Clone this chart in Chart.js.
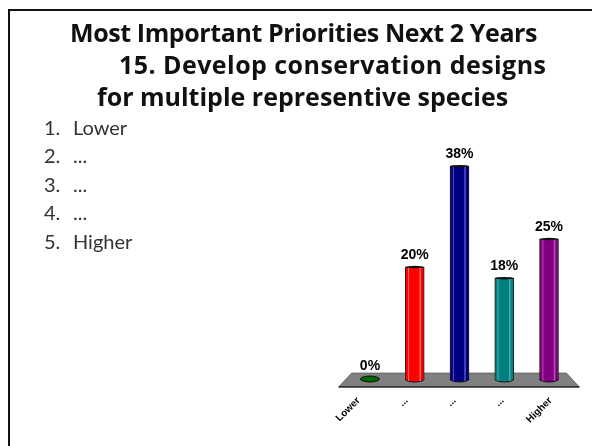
<!DOCTYPE html>
<html>
<head>
<meta charset="utf-8">
<title>Most Important Priorities Next 2 Years</title>
<script src="https://cdn.jsdelivr.net/npm/chart.js@4"></script>
<style>
    html, body { margin: 0; padding: 0; background: #fff; overflow: hidden; }
    #page { position: relative; width: 592px; height: 446px; overflow: hidden; }
    #frame { position: absolute; left: 8px; top: 9px; width: 600px; height: 460px;
             border-left: 2px solid #111; border-top: 2px solid #111; }
    #chart { position: absolute; left: 0; top: 0; }
    .title, .item { position: absolute; white-space: nowrap; }
    .title { font: bold 25px "Open Sans", sans-serif; color: #111; }
    .item { font: 20px "Lato", sans-serif; color: #333; }
</style>
</head>
<body>
<div id="page">
    <div id="frame"></div>
    <canvas id="chart" width="592" height="446"></canvas>
    <div class="title" style="left:70px;top:15px;letter-spacing:-0.4px">Most Important Priorities Next 2 Years</div>
    <div class="title" style="left:119px;top:47px;letter-spacing:0.45px">15. Develop conservation designs</div>
    <div class="title" style="left:97px;top:79px">for multiple representive species</div>
    <div id="list"></div>
</div>
<script>
const categories = ["Lower", "...", "...", "...", "Higher"];
const percents = [0, 20, 38, 18, 25];
const barColors = ["#006600", "#ff0000", "#000080", "#008080", "#800080"];
const stripColors = ["#339933", "#ff6666", "#5555bb", "#55aaaa", "#b055b0"];
const listNumbers = ["1.", "2.", "3.", "4.", "5."];

// numbered list on the left
const list = document.getElementById("list");
categories.forEach((label, i) => {
    const top = 114.5 + i * 28.6;
    [[listNumbers[i], 44], [label, 73]].forEach(([text, left]) => {
        const el = document.createElement("div");
        el.className = "item";
        el.textContent = text;
        el.style.left = left + "px";
        el.style.top = top + "px";
        list.appendChild(el);
    });
});

// grey floor under the bars
const floorPlugin = {
    id: "floor",
    beforeDatasetsDraw(chart) {
        const c = chart.ctx;
        const base = chart.scales.y.getPixelForValue(0);
        const a = chart.chartArea;
        c.save();
        c.beginPath();
        c.moveTo(a.left + 4, base - 6);
        c.lineTo(a.right - 5, base - 6);
        c.lineTo(a.right + 8, base + 8);
        c.lineTo(a.left - 9, base + 8);
        c.closePath();
        c.fillStyle = "#808080";
        c.fill();
        c.strokeStyle = "#555";
        c.lineWidth = 0.7;
        c.stroke();
        c.beginPath();
        c.moveTo(a.left - 9, base + 8);
        c.lineTo(a.right + 8, base + 8);
        c.strokeStyle = "#000";
        c.lineWidth = 1.2;
        c.stroke();
        c.restore();
    }
};

// rounds the flat bars off into cylinders and writes the percent labels
const cylinderPlugin = {
    id: "cylinder",
    afterDatasetsDraw(chart) {
        const c = chart.ctx;
        const base = chart.scales.y.getPixelForValue(0);
        const meta = chart.getDatasetMeta(0);
        meta.data.forEach((bar, i) => {
            const half = bar.width / 2;
            c.save();
            // bottom end
            c.beginPath();
            c.ellipse(bar.x, base, half, 3, 0, 0, Math.PI * 2);
            c.fillStyle = barColors[i];
            c.fill();
            c.strokeStyle = "#111";
            c.lineWidth = 1;
            if (percents[i] === 0) {
                c.stroke();
            } else {
                c.beginPath();
                c.ellipse(bar.x, base, half, 3, 0, 0, Math.PI);
                c.stroke();
                // highlights
                c.fillStyle = stripColors[i];
                c.fillRect(bar.x + half * 0.5, bar.y, 1.5, base - bar.y + 2);
                c.fillRect(bar.x - half * 0.7, bar.y, 1, base - bar.y + 2);
                // top end
                c.beginPath();
                c.ellipse(bar.x, bar.y, half, 1.2, 0, 0, Math.PI * 2);
                c.fillStyle = "#111";
                c.fill();
            }
            c.fillStyle = "#000";
            c.font = "bold 14px 'Liberation Sans', sans-serif";
            c.textAlign = "center";
            c.textBaseline = "alphabetic";
            c.fillText(percents[i] + "%", bar.x, bar.y - (percents[i] === 0 ? 9 : 8));
            c.restore();
        });
    }
};

// slanted axis labels, they sit a bit wider apart than the bars
const tickLabelPlugin = {
    id: "tickLabels",
    afterDraw(chart) {
        const c = chart.ctx;
        const x = chart.scales.x;
        const mid = x.getPixelForValue(2);
        const base = chart.scales.y.getPixelForValue(0);
        categories.forEach((label, i) => {
            c.save();
            c.translate(mid - 5 + (i - 2) * 48, base + 20);
            c.rotate(-Math.PI / 4);
            c.font = "bold 10px 'Liberation Sans', sans-serif";
            c.fillStyle = "#000";
            c.textAlign = "right";
            c.textBaseline = "middle";
            c.fillText(label, 0, 0);
            c.restore();
        });
    }
};

new Chart(document.getElementById("chart").getContext("2d"), {
    type: "bar",
    data: {
        labels: categories,
        datasets: [{
            data: percents,
            backgroundColor: barColors,
            borderColor: "#222",
            borderWidth: 1,
            barThickness: 19
        }]
    },
    options: {
        responsive: false,
        animation: false,
        layout: { padding: { left: 347.6, right: 20.6, top: 155, bottom: 0 } },
        plugins: { legend: { display: false }, tooltip: { enabled: false } },
        scales: {
            x: {
                grid: { display: false },
                border: { display: false },
                ticks: { display: false },
                afterFit(scale) { scale.height = 67; }
            },
            y: { display: false, min: 0, max: 40 }
        }
    },
    plugins: [floorPlugin, cylinderPlugin, tickLabelPlugin]
});
</script>
</body>
</html>
